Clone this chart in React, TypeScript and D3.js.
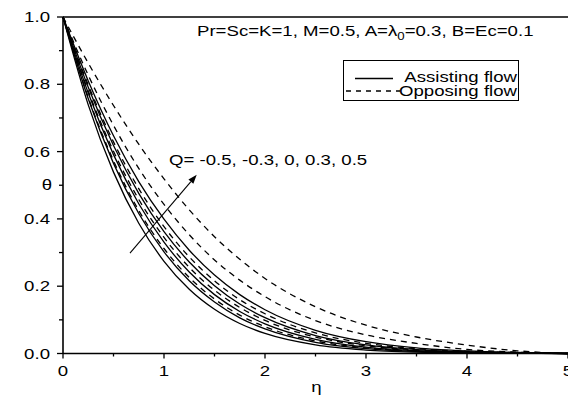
import React from "react";
import * as d3 from "d3";

const eta = [0, 0.25, 0.5, 0.75, 1.0, 1.25, 1.5, 1.75, 2.0, 2.5, 3.0, 3.5, 4.0, 4.5, 5.0];

// Assisting flow, Q = -0.5, -0.3, 0, 0.3, 0.5
const assistQm05 = [1, 0.739, 0.539, 0.387, 0.274, 0.191, 0.1315, 0.0892, 0.0596, 0.0255, 0.0103, 0.0039, 0.0014, 0.0005, 0];
const assistQm03 = [1, 0.757, 0.565, 0.416, 0.302, 0.216, 0.153, 0.106, 0.0731, 0.0331, 0.0142, 0.0058, 0.0022, 0.0008, 0];
const assistQ0 = [1, 0.774, 0.591, 0.445, 0.331, 0.242, 0.175, 0.125, 0.0882, 0.0421, 0.019, 0.0081, 0.0033, 0.0013, 0];
const assistQ03 = [1, 0.791, 0.618, 0.476, 0.362, 0.272, 0.2015, 0.147, 0.1065, 0.0534, 0.0254, 0.0115, 0.0049, 0.002, 0];
const assistQ05 = [1, 0.81, 0.647, 0.511, 0.399, 0.307, 0.233, 0.175, 0.13, 0.069, 0.035, 0.0167, 0.0076, 0.003, 0];

// Opposing flow, Q = -0.5, -0.3, 0, 0.3, 0.5
const opposeQm05 = [1, 0.761, 0.573, 0.425, 0.312, 0.226, 0.162, 0.114, 0.0797, 0.0373, 0.0167, 0.0071, 0.0029, 0.0011, 0];
const opposeQm03 = [1, 0.78, 0.601, 0.458, 0.345, 0.256, 0.188, 0.137, 0.0983, 0.0489, 0.0232, 0.0105, 0.0045, 0.0018, 0];
const opposeQ0 = [1, 0.798, 0.629, 0.49, 0.377, 0.287, 0.216, 0.16, 0.118, 0.0612, 0.0303, 0.0144, 0.0065, 0.0027, 0];
const opposeQ03 = [1, 0.827, 0.678, 0.55, 0.443, 0.353, 0.278, 0.218, 0.169, 0.098, 0.0553, 0.03, 0.012, 0.004, 0];
const opposeQ05 = [1, 0.863, 0.737, 0.622, 0.519, 0.427, 0.347, 0.28, 0.223, 0.139, 0.084, 0.049, 0.025, 0.008, 0];

const assisting = [assistQm05, assistQm03, assistQ0, assistQ03, assistQ05];
const opposing = [opposeQm05, opposeQm03, opposeQ0, opposeQ03, opposeQ05];

const xTicks = [0, 1, 2, 3, 4, 5];
const xMinor = [0.5, 1.5, 2.5, 3.5, 4.5];
const yTicks = [0, 0.2, 0.4, 0.6, 0.8, 1.0];
const yMinor = [0.1, 0.3, 0.5, 0.7, 0.9];

const legendLabels = ["Assisting flow", "Opposing flow"];
const qLabel = "Q= -0.5, -0.3, 0, 0.3, 0.5";

const FONT = "'Liberation Sans', Arial, Helvetica, sans-serif";
const SX = 1.33;

function SText({ x, y, anchor = "start", size = 14, children }: any) {
  return (
    <g transform={`translate(${x},${y}) scale(${SX},1)`}>
      <text x={0} y={0} textAnchor={anchor} fontSize={size} fontFamily={FONT} fill="#000">
        {children}
      </text>
    </g>
  );
}

export default function App() {
  const W = 568;
  const H = 398;
  const x = d3.scaleLinear().domain([0, 5]).range([63, 568]);
  const y = d3.scaleLinear().domain([0, 1]).range([353.5, 17]);

  const line = d3
    .line<number>()
    .x((_, i) => x(eta[i]))
    .y((d) => y(d))
    .curve(d3.curveMonotoneX);

  const arrowTail = [0.663, 0.298];
  const arrowTip = [1.324, 0.531];
  const ax1 = x(arrowTail[0]);
  const ay1 = y(arrowTail[1]);
  const ax2 = x(arrowTip[0]);
  const ay2 = y(arrowTip[1]);
  const ang = Math.atan2(ay2 - ay1, ax2 - ax1);
  const hl = 9;
  const hw = 3.2;
  const bx = ax2 - hl * Math.cos(ang);
  const by = ay2 - hl * Math.sin(ang);
  const head = `M${ax2},${ay2} L${bx + hw * Math.sin(ang)},${by - hw * Math.cos(ang)} L${bx - hw * Math.sin(ang)},${by + hw * Math.cos(ang)} Z`;

  return (
    <svg width={W} height={H} style={{ position: "absolute", left: 0, top: 0, background: "#fff" }}>
      <rect x={0} y={0} width={W} height={H} fill="#fff" />
      {/* curves */}
      <g fill="none" stroke="#000" strokeWidth={1.3}>
        {assisting.map((s, i) => (
          <path key={"a" + i} d={line(s) || ""} />
        ))}
        {opposing.map((s, i) => (
          <path key={"o" + i} d={line(s) || ""} strokeDasharray="6,5" />
        ))}
      </g>

      {/* frame */}
      <g stroke="#000" strokeWidth={1.6} fill="none">
        <line x1={x(0)} x2={x(0)} y1={y(1)} y2={y(0)} />
        <line x1={x(0)} x2={x(5)} y1={y(0)} y2={y(0)} />
        <line x1={x(0)} x2={x(5)} y1={y(1)} y2={y(1)} />
      </g>

      {/* ticks */}
      <g stroke="#000" strokeWidth={1.3}>
        {yTicks.map((t) => (
          <line key={"yt" + t} x1={x(0) - 6} x2={x(0)} y1={y(t)} y2={y(t)} />
        ))}
        {yMinor.map((t) => (
          <line key={"ym" + t} x1={x(0) - 4} x2={x(0)} y1={y(t)} y2={y(t)} />
        ))}
        {xTicks.map((t) => (
          <line key={"xt" + t} x1={x(t)} x2={x(t)} y1={y(0)} y2={y(0) + 5} />
        ))}
        {xMinor.map((t) => (
          <line key={"xm" + t} x1={x(t)} x2={x(t)} y1={y(0)} y2={y(0) + 3} />
        ))}
      </g>

      {/* tick labels */}
      {yTicks.map((t) => (
        <SText key={"yl" + t} x={50} y={y(t) + 5} anchor="end">
          {t.toFixed(1)}
        </SText>
      ))}
      {xTicks.map((t) => (
        <SText key={"xl" + t} x={x(t)} y={376} anchor="middle">
          {String(t)}
        </SText>
      ))}

      {/* axis titles */}
      <SText x={x(2.5) + 1} y={392} anchor="middle">η</SText>
      <SText x={47} y={190} anchor="middle">θ</SText>

      {/* parameters */}
      <g transform={`translate(197,36) scale(${SX},1)`}>
        <text x={0} y={0} fontSize={14} fontFamily={FONT} fill="#000">
          Pr=Sc=K=1, M=0.5, A=λ
          <tspan fontSize={10} dy={4}>0</tspan>
          <tspan dy={-4}>=0.3, B=Ec=0.1</tspan>
        </text>
      </g>

      {/* legend */}
      <rect x={343.5} y={60.5} width={175} height={40} fill="#fff" stroke="#000" strokeWidth={1} />
      <line x1={355} x2={393} y1={78.5} y2={78.5} stroke="#000" strokeWidth={1.3} />
      <line x1={346} x2={400} y1={91} y2={91} stroke="#000" strokeWidth={1.3} strokeDasharray="5,5" />
      <SText x={517} y={82} anchor="end">{legendLabels[0]}</SText>
      <SText x={517} y={96} anchor="end">{legendLabels[1]}</SText>

      {/* Q annotation */}
      <SText x={169} y={165}>{qLabel}</SText>
      <line x1={ax1} y1={ay1} x2={bx} y2={by} stroke="#000" strokeWidth={1.1} />
      <path d={head} fill="#000" />
    </svg>
  );
}
